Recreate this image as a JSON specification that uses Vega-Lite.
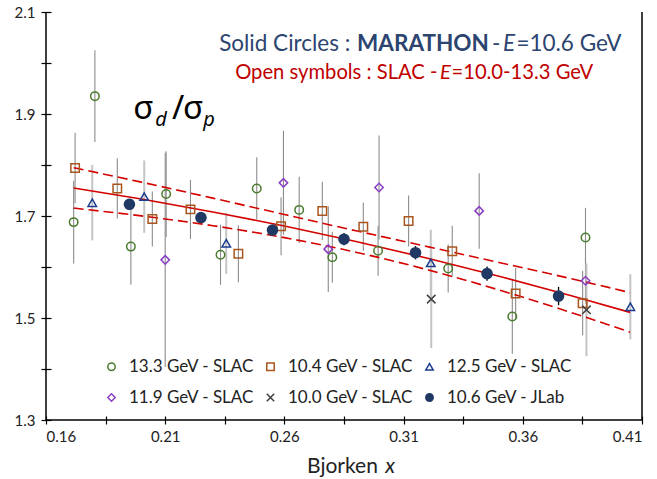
{
  "$schema": "https://vega.github.io/schema/vega-lite/v6.json",
  "width": 596,
  "height": 408,
  "autosize": {"type": "none"},
  "padding": {"left": 46, "top": 12, "right": 15, "bottom": 59},
  "background": "white",
  "config": {
    "view": {"stroke": null},
    "font": "Lato",
    "axis": {"grid": false, "domain": false, "tickColor": "black", "tickWidth": 1.2, "labelFontSize": 15, "labelFont": "Lato", "labelColor": "#222", "labelOverlap": false}
  },
  "datasets": {
    "points": [
      {"series": "13.3 GeV - SLAC", "x": 0.1805, "y": 1.935, "err": 0.090},
      {"series": "13.3 GeV - SLAC", "x": 0.1716, "y": 1.688, "err": 0.081},
      {"series": "13.3 GeV - SLAC", "x": 0.1956, "y": 1.640, "err": 0.075},
      {"series": "13.3 GeV - SLAC", "x": 0.2104, "y": 1.743, "err": 0.084},
      {"series": "13.3 GeV - SLAC", "x": 0.2332, "y": 1.624, "err": 0.059},
      {"series": "13.3 GeV - SLAC", "x": 0.2484, "y": 1.754, "err": 0.061},
      {"series": "13.3 GeV - SLAC", "x": 0.2662, "y": 1.712, "err": 0.065},
      {"series": "13.3 GeV - SLAC", "x": 0.2801, "y": 1.619, "err": 0.050},
      {"series": "13.3 GeV - SLAC", "x": 0.2993, "y": 1.632, "err": 0.049},
      {"series": "13.3 GeV - SLAC", "x": 0.3287, "y": 1.597, "err": 0.047},
      {"series": "13.3 GeV - SLAC", "x": 0.3556, "y": 1.503, "err": 0.073},
      {"series": "13.3 GeV - SLAC", "x": 0.3863, "y": 1.658, "err": 0.058},
      {"series": "10.4 GeV - SLAC", "x": 0.1722, "y": 1.794, "err": 0.069},
      {"series": "10.4 GeV - SLAC", "x": 0.1899, "y": 1.754, "err": 0.059},
      {"series": "10.4 GeV - SLAC", "x": 0.2046, "y": 1.694, "err": 0.054},
      {"series": "10.4 GeV - SLAC", "x": 0.2206, "y": 1.713, "err": 0.058},
      {"series": "10.4 GeV - SLAC", "x": 0.2407, "y": 1.626, "err": 0.056},
      {"series": "10.4 GeV - SLAC", "x": 0.2586, "y": 1.680, "err": 0.057},
      {"series": "10.4 GeV - SLAC", "x": 0.2759, "y": 1.710, "err": 0.057},
      {"series": "10.4 GeV - SLAC", "x": 0.2931, "y": 1.679, "err": 0.047},
      {"series": "10.4 GeV - SLAC", "x": 0.3121, "y": 1.690, "err": 0.050},
      {"series": "10.4 GeV - SLAC", "x": 0.3304, "y": 1.631, "err": 0.050},
      {"series": "10.4 GeV - SLAC", "x": 0.3570, "y": 1.548, "err": 0.050},
      {"series": "10.4 GeV - SLAC", "x": 0.3851, "y": 1.529, "err": 0.063},
      {"series": "12.5 GeV - SLAC", "x": 0.1794, "y": 1.726, "err": 0.074},
      {"series": "12.5 GeV - SLAC", "x": 0.2012, "y": 1.738, "err": 0.071},
      {"series": "12.5 GeV - SLAC", "x": 0.2356, "y": 1.6465, "err": 0.060},
      {"series": "12.5 GeV - SLAC", "x": 0.3214, "y": 1.608, "err": 0.065},
      {"series": "12.5 GeV - SLAC", "x": 0.4051, "y": 1.522, "err": 0.064},
      {"series": "11.9 GeV - SLAC", "x": 0.2100, "y": 1.614, "err": 0.210},
      {"series": "11.9 GeV - SLAC", "x": 0.2596, "y": 1.765, "err": 0.102},
      {"series": "11.9 GeV - SLAC", "x": 0.2784, "y": 1.635, "err": 0.084},
      {"series": "11.9 GeV - SLAC", "x": 0.2997, "y": 1.756, "err": 0.102},
      {"series": "11.9 GeV - SLAC", "x": 0.3417, "y": 1.710, "err": 0.074},
      {"series": "11.9 GeV - SLAC", "x": 0.3863, "y": 1.573, "err": 0.045},
      {"series": "10.0 GeV - SLAC", "x": 0.3216, "y": 1.537, "err": 0.096},
      {"series": "10.0 GeV - SLAC", "x": 0.3867, "y": 1.516, "err": 0.091},
      {"series": "10.6 GeV - JLab", "x": 0.195, "y": 1.723, "err": 0.010},
      {"series": "10.6 GeV - JLab", "x": 0.225, "y": 1.697, "err": 0.010},
      {"series": "10.6 GeV - JLab", "x": 0.255, "y": 1.6725, "err": 0.010},
      {"series": "10.6 GeV - JLab", "x": 0.285, "y": 1.6545, "err": 0.012},
      {"series": "10.6 GeV - JLab", "x": 0.315, "y": 1.628, "err": 0.013},
      {"series": "10.6 GeV - JLab", "x": 0.345, "y": 1.587, "err": 0.014},
      {"series": "10.6 GeV - JLab", "x": 0.375, "y": 1.543, "err": 0.018}
    ],
    "fit": [
      {"x": 0.1716, "y": 1.755, "lo": 1.7154, "hi": 1.7946},
      {"x": 0.20, "y": 1.7333, "lo": 1.7002, "hi": 1.7664},
      {"x": 0.23, "y": 1.708, "lo": 1.681, "hi": 1.735},
      {"x": 0.26, "y": 1.6803, "lo": 1.6576, "hi": 1.703},
      {"x": 0.29, "y": 1.650, "lo": 1.629, "hi": 1.671},
      {"x": 0.32, "y": 1.6173, "lo": 1.5946, "hi": 1.640},
      {"x": 0.35, "y": 1.582, "lo": 1.555, "hi": 1.609},
      {"x": 0.38, "y": 1.5443, "lo": 1.5112, "hi": 1.5774},
      {"x": 0.405, "y": 1.511, "lo": 1.4722, "hi": 1.5498}
    ],
    "frame": [
      {"x": 0.16, "x2": 0.16, "y": 1.3, "y2": 2.1},
      {"x": 0.16, "x2": 0.41, "y": 1.3, "y2": 1.3},
      {"x": 0.41, "x2": 0.41, "y": 1.3, "y2": 2.1}
    ],
    "labels": [
      {"role": "t1", "t": "Solid Circles :", "x": 0.23263, "y": 2.0227},
      {"role": "t1", "t": "-", "x": 0.34705, "y": 2.0227},
      {"role": "t1", "t": "=10.6 GeV", "x": 0.35732, "y": 2.0227},
      {"role": "t1b", "t": "MARATHON", "x": 0.29047, "y": 2.0227},
      {"role": "t1i", "t": "E", "x": 0.35166, "y": 2.0227},
      {"role": "t2", "t": "Open symbols : SLAC -", "x": 0.23934, "y": 1.9686},
      {"role": "t2", "t": "=10.0-13.3 GeV", "x": 0.33008, "y": 1.9686},
      {"role": "t2i", "t": "E", "x": 0.32526, "y": 1.9686},
      {"role": "sig", "t": "σ", "x": 0.19659, "y": 1.890},
      {"role": "sig", "t": "/", "x": 0.21281, "y": 1.890},
      {"role": "sig", "t": "σ", "x": 0.21742, "y": 1.890},
      {"role": "sub", "t": "d", "x": 0.20581, "y": 1.877},
      {"role": "sub", "t": "p", "x": 0.22593, "y": 1.877},
      {"role": "ax", "t": "Bjorken", "x": 0.26950, "y": 1.197},
      {"role": "axi", "t": "x", "x": 0.3023, "y": 1.197}
    ]
  },
  "layer": [
    {
      "data": {"name": "frame"},
      "mark": {"type": "rule", "color": "black", "strokeWidth": 1.5},
      "encoding": {
        "x": {"field": "x", "type": "quantitative", "title": null,
          "scale": {"domain": [0.16, 0.41], "nice": false, "zero": false},
          "axis": {"values": [0.16, 0.185, 0.21, 0.235, 0.26, 0.285, 0.31, 0.335, 0.36, 0.385, 0.41],
            "labelExpr": "round(datum.value*1000) % 50 == 10 ? format(datum.value, '.2f') : ''",
            "offset": -4, "tickSize": 8, "labelPadding": 5}},
        "x2": {"field": "x2"},
        "y": {"field": "y", "type": "quantitative", "title": null,
          "scale": {"domain": [1.3, 2.1], "nice": false, "zero": false},
          "axis": {"values": [1.3, 1.4, 1.5, 1.6, 1.7, 1.8, 1.9, 2.0, 2.1],
            "labelExpr": "round(datum.value*10) % 2 == 1 ? format(datum.value, '.1f') : ''",
            "offset": -5, "tickSize": 10, "labelPadding": 6}},
        "y2": {"field": "y2"}
      }
    },
    {
      "data": {"name": "points"},
      "transform": [{"filter": "datum.series == '13.3 GeV - SLAC' || datum.series == '10.4 GeV - SLAC' || datum.series == '11.9 GeV - SLAC'"}],
      "mark": {"type": "errorbar", "thickness": 1.1, "color": "#8c8c8c"},
      "encoding": {
        "x": {"field": "x", "type": "quantitative", "title": null},
        "y": {"field": "y", "type": "quantitative", "title": null},
        "yError": {"field": "err"}
      }
    },
    {
      "data": {"name": "points"},
      "transform": [{"filter": "datum.series == '12.5 GeV - SLAC' || datum.series == '10.0 GeV - SLAC'"}],
      "mark": {"type": "errorbar", "thickness": 2, "color": "#c4c4c4"},
      "encoding": {
        "x": {"field": "x", "type": "quantitative", "title": null},
        "y": {"field": "y", "type": "quantitative", "title": null},
        "yError": {"field": "err"}
      }
    },
    {
      "data": {"name": "points"},
      "transform": [{"filter": "datum.series == '10.6 GeV - JLab'"}],
      "mark": {"type": "errorbar", "thickness": 1.3, "color": "#000000"},
      "encoding": {
        "x": {"field": "x", "type": "quantitative", "title": null},
        "y": {"field": "y", "type": "quantitative", "title": null},
        "yError": {"field": "err"}
      }
    },
    {
      "data": {"name": "fit"},
      "mark": {"type": "line", "color": "#d40000", "strokeWidth": 1.6, "interpolate": "monotone"},
      "encoding": {
        "x": {"field": "x", "type": "quantitative", "title": null},
        "y": {"field": "y", "type": "quantitative", "title": null}
      }
    },
    {
      "data": {"name": "fit"},
      "mark": {"type": "line", "color": "#d40000", "strokeWidth": 1.6, "strokeDash": [10, 5], "interpolate": "monotone"},
      "encoding": {
        "x": {"field": "x", "type": "quantitative", "title": null},
        "y": {"field": "hi", "type": "quantitative", "title": null}
      }
    },
    {
      "data": {"name": "fit"},
      "mark": {"type": "line", "color": "#d40000", "strokeWidth": 1.6, "strokeDash": [10, 5], "interpolate": "monotone"},
      "encoding": {
        "x": {"field": "x", "type": "quantitative", "title": null},
        "y": {"field": "lo", "type": "quantitative", "title": null}
      }
    },
    {
      "data": {"name": "points"},
      "transform": [{"filter": "datum.series != '10.6 GeV - JLab'"}],
      "mark": {"type": "point", "strokeWidth": 1.5, "opacity": 1, "size": 72},
      "encoding": {
        "x": {"field": "x", "type": "quantitative", "title": null},
        "y": {"field": "y", "type": "quantitative", "title": null},
        "shape": {"field": "series", "type": "nominal", "title": null,
          "scale": {"domain": ["13.3 GeV - SLAC", "11.9 GeV - SLAC", "10.4 GeV - SLAC", "10.0 GeV - SLAC", "12.5 GeV - SLAC", "10.6 GeV - JLab"],
            "range": ["circle", "diamond", "square", "M-1,-1L1,1M-1,1L1,-1", "triangle-up", "circle"]},
          "legend": {"orient": "none", "legendX": 57, "legendY": 346, "columns": 3, "padding": 0,
            "symbolSize": 55, "symbolStrokeWidth": 1.5, "labelFontSize": 17, "labelFont": "Lato", "labelColor": "#222",
            "rowPadding": 13, "columnPadding": 8, "labelOffset": 9}},
        "fill": {"field": "series", "type": "nominal", "title": null,
          "scale": {"domain": ["13.3 GeV - SLAC", "11.9 GeV - SLAC", "10.4 GeV - SLAC", "10.0 GeV - SLAC", "12.5 GeV - SLAC", "10.6 GeV - JLab"],
            "range": ["transparent", "transparent", "transparent", "transparent", "transparent", "#1f3864"]},
          "legend": {"orient": "none", "legendX": 57, "legendY": 346, "columns": 3, "padding": 0,
            "symbolSize": 55, "symbolStrokeWidth": 1.5, "labelFontSize": 17, "labelFont": "Lato", "labelColor": "#222",
            "rowPadding": 13, "columnPadding": 8, "labelOffset": 9}},
        "stroke": {"field": "series", "type": "nominal", "title": null,
          "scale": {"domain": ["13.3 GeV - SLAC", "11.9 GeV - SLAC", "10.4 GeV - SLAC", "10.0 GeV - SLAC", "12.5 GeV - SLAC", "10.6 GeV - JLab"],
            "range": ["#4a7a2e", "#8a3fc4", "#a8561e", "#404040", "#1a3d8f", "#1f3864"]},
          "legend": {"orient": "none", "legendX": 57, "legendY": 346, "columns": 3, "padding": 0,
            "symbolSize": 55, "symbolStrokeWidth": 1.5, "labelFontSize": 17, "labelFont": "Lato", "labelColor": "#222",
            "rowPadding": 13, "columnPadding": 8, "labelOffset": 9}}
      }
    },
    {
      "data": {"name": "points"},
      "transform": [{"filter": "datum.series == '10.6 GeV - JLab'"}],
      "mark": {"type": "point", "shape": "circle", "filled": true, "opacity": 1, "size": 135, "color": "#1f3864"},
      "encoding": {
        "x": {"field": "x", "type": "quantitative", "title": null},
        "y": {"field": "y", "type": "quantitative", "title": null}
      }
    },
    {
      "data": {"name": "labels"},
      "transform": [{"filter": "datum.role == 't1'"}],
      "mark": {"type": "text", "align": "left", "baseline": "alphabetic", "font": "Lato", "fontSize": 22.5, "color": "#2c4470"},
      "encoding": {"x": {"field": "x", "type": "quantitative", "title": null}, "y": {"field": "y", "type": "quantitative", "title": null}, "text": {"field": "t"}}
    },
    {
      "data": {"name": "labels"},
      "transform": [{"filter": "datum.role == 't1b'"}],
      "mark": {"type": "text", "align": "left", "baseline": "alphabetic", "font": "Lato", "fontSize": 22.5, "fontWeight": "bold", "color": "#2c4470"},
      "encoding": {"x": {"field": "x", "type": "quantitative", "title": null}, "y": {"field": "y", "type": "quantitative", "title": null}, "text": {"field": "t"}}
    },
    {
      "data": {"name": "labels"},
      "transform": [{"filter": "datum.role == 't1i'"}],
      "mark": {"type": "text", "align": "left", "baseline": "alphabetic", "font": "Lato", "fontSize": 22.5, "fontStyle": "italic", "color": "#2c4470"},
      "encoding": {"x": {"field": "x", "type": "quantitative", "title": null}, "y": {"field": "y", "type": "quantitative", "title": null}, "text": {"field": "t"}}
    },
    {
      "data": {"name": "labels"},
      "transform": [{"filter": "datum.role == 't2'"}],
      "mark": {"type": "text", "align": "left", "baseline": "alphabetic", "font": "Lato", "fontSize": 20.2, "color": "#c00000"},
      "encoding": {"x": {"field": "x", "type": "quantitative", "title": null}, "y": {"field": "y", "type": "quantitative", "title": null}, "text": {"field": "t"}}
    },
    {
      "data": {"name": "labels"},
      "transform": [{"filter": "datum.role == 't2i'"}],
      "mark": {"type": "text", "align": "left", "baseline": "alphabetic", "font": "Lato", "fontSize": 20.2, "fontStyle": "italic", "color": "#c00000"},
      "encoding": {"x": {"field": "x", "type": "quantitative", "title": null}, "y": {"field": "y", "type": "quantitative", "title": null}, "text": {"field": "t"}}
    },
    {
      "data": {"name": "labels"},
      "transform": [{"filter": "datum.role == 'sig'"}],
      "mark": {"type": "text", "align": "left", "baseline": "alphabetic", "font": "Noto Sans", "fontSize": 33, "color": "black"},
      "encoding": {"x": {"field": "x", "type": "quantitative", "title": null}, "y": {"field": "y", "type": "quantitative", "title": null}, "text": {"field": "t"}}
    },
    {
      "data": {"name": "labels"},
      "transform": [{"filter": "datum.role == 'sub'"}],
      "mark": {"type": "text", "align": "left", "baseline": "alphabetic", "font": "Noto Sans", "fontSize": 20, "fontStyle": "italic", "color": "black"},
      "encoding": {"x": {"field": "x", "type": "quantitative", "title": null}, "y": {"field": "y", "type": "quantitative", "title": null}, "text": {"field": "t"}}
    },
    {
      "data": {"name": "labels"},
      "transform": [{"filter": "datum.role == 'ax'"}],
      "mark": {"type": "text", "align": "left", "baseline": "alphabetic", "font": "Lato", "fontSize": 21, "color": "#222"},
      "encoding": {"x": {"field": "x", "type": "quantitative", "title": null}, "y": {"field": "y", "type": "quantitative", "title": null}, "text": {"field": "t"}}
    },
    {
      "data": {"name": "labels"},
      "transform": [{"filter": "datum.role == 'axi'"}],
      "mark": {"type": "text", "align": "left", "baseline": "alphabetic", "font": "Lato", "fontSize": 21, "fontStyle": "italic", "color": "#222"},
      "encoding": {"x": {"field": "x", "type": "quantitative", "title": null}, "y": {"field": "y", "type": "quantitative", "title": null}, "text": {"field": "t"}}
    }
  ]
}
